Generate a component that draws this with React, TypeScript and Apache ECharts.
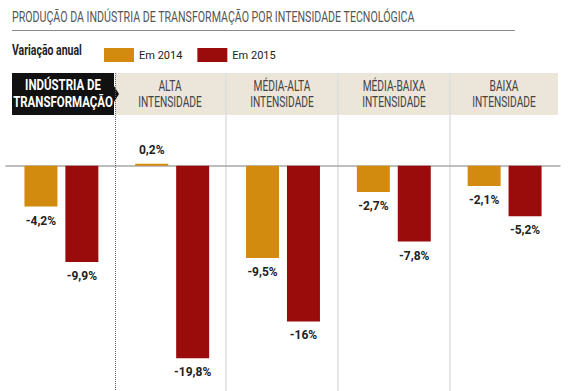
import React, { useEffect, useRef } from "react";
import * as echarts from "echarts";

const categories = [
  "INDÚSTRIA DE\nTRANSFORMAÇÃO",
  "ALTA\nINTENSIDADE",
  "MÉDIA-ALTA\nINTENSIDADE",
  "MÉDIA-BAIXA\nINTENSIDADE",
  "BAIXA\nINTENSIDADE",
];
const values2014 = [-4.2, 0.2, -9.5, -2.7, -2.1];
const values2015 = [-9.9, -19.8, -16, -7.8, -5.2];
const seriesNames = ["Em 2014", "Em 2015"];
const title = "PRODUÇÃO DA INDÚSTRIA DE TRANSFORMAÇÃO POR INTENSIDADE TECNOLÓGICA";
const legendTitle = "Variação anual";

const ORANGE = "#d28b0f";
const RED = "#9a0b0b";
const FONT = "Roboto, 'Liberation Sans', sans-serif";

const fmt = (v: number) => String(v).replace(".", ",") + "%";

export default function App() {
  const ref = useRef<HTMLDivElement>(null);
  useEffect(() => {
    if (!ref.current) return;
    const chart = echarts.init(ref.current, null, { renderer: "svg" });
    const headerCenters = [170, 282, 394, 504];
    const separators = [226, 338, 450];
    const graphic: any[] = [
      {
        type: "text",
        x: 12,
        y: 17,
        scaleX: 0.76,
        style: { text: title, font: `14px ${FONT}`, fill: "#555", align: "left", verticalAlign: "middle" },
      },
      {
        type: "line",
        shape: { x1: 12, y1: 30.5, x2: 515, y2: 30.5 },
        style: { stroke: "#8a8a8a", lineWidth: 1 },
      },
      {
        type: "text",
        x: 12,
        y: 50,
        scaleX: 0.75,
        style: { text: legendTitle, font: `bold 14px ${FONT}`, fill: "#222", align: "left", verticalAlign: "middle" },
      },
      {
        type: "rect",
        shape: { x: 115, y: 73, width: 443, height: 42 },
        style: { fill: "#ece6da" },
        z: -1,
      },
      {
        type: "polygon",
        shape: {
          points: [
            [12, 73], [114, 73], [114, 86], [119, 94], [114, 102], [114, 115], [12, 115],
          ],
        },
        style: { fill: "#111" },
      },
      {
        type: "text",
        x: 63,
        y: 94,
        scaleX: 0.82,
        style: {
          text: categories[0],
          font: `bold 14px ${FONT}`,
          fill: "#fff",
          align: "center",
          verticalAlign: "middle",
          lineHeight: 17,
        },
      },
      {
        type: "line",
        shape: { x1: 115.5, y1: 73, x2: 115.5, y2: 391 },
        style: { stroke: "#666", lineWidth: 1, lineDash: [1, 1] },
        z: 5,
      },
    ];
    separators.forEach((x) => {
      graphic.push({
        type: "line",
        shape: { x1: x, y1: 73, x2: x, y2: 391 },
        style: { stroke: "#dcdcdc", lineWidth: 1.5 },
        z: -1,
      });
    });
    headerCenters.forEach((x, i) => {
      graphic.push({
        type: "text",
        x,
        y: 94,
        scaleX: 0.73,
        style: {
          text: categories[i + 1],
          font: `14px ${FONT}`,
          fill: "#444",
          align: "center",
          verticalAlign: "middle",
          lineHeight: 16,
        },
      });
    });

    const labelCfg = {
      show: true,
      position: "outside",
      distance: 8,
      formatter: (p: any) => fmt(p.value),
      fontFamily: FONT,
      fontWeight: "bold",
      fontSize: 12,
      color: "#222",
    };

    chart.setOption({
      animation: false,
      legend: {
        left: 99,
        top: 43,
        itemWidth: 30,
        itemHeight: 14,
        itemGap: 15,
        icon: "rect",
        data: seriesNames,
        textStyle: { fontFamily: FONT, fontSize: 11, color: "#222" },
      },
      grid: { left: 6, right: 10, top: 117, bottom: 1.5 },
      xAxis: {
        type: "category",
        data: categories,
        axisLabel: { show: false },
        axisTick: { show: false },
        axisLine: { show: true, onZero: true, lineStyle: { color: "#a8a8a8", width: 1.5 } },
        splitLine: { show: false },
      },
      yAxis: {
        type: "value",
        min: -23,
        max: 5,
        show: false,
        splitLine: { show: false },
      },
      series: [
        {
          name: seriesNames[0],
          type: "bar",
          data: values2014,
          barWidth: 33,
          barGap: "24%",
          itemStyle: { color: ORANGE },
          label: labelCfg,
        },
        {
          name: seriesNames[1],
          type: "bar",
          data: values2015,
          barWidth: 33,
          barGap: "24%",
          itemStyle: { color: RED },
          label: labelCfg,
        },
      ],
      graphic,
    });
    return () => chart.dispose();
  }, []);
  return (
    <div
      ref={ref}
      style={{ position: "fixed", left: 0, top: 0, width: 570, height: 391, background: "#fff" }}
    />
  );
}
